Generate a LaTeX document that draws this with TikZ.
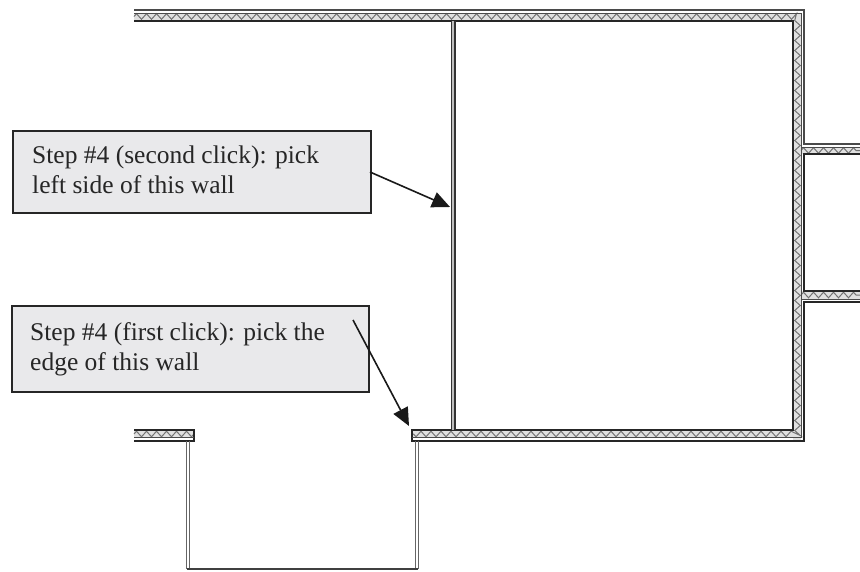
\documentclass[tikz,border=0pt]{standalone}
\usepackage{fontspec}
\setmainfont{Liberation Serif}
\usetikzlibrary{arrows.meta,decorations.pathmorphing}
\definecolor{boxfill}{HTML}{E9E9EB}
\definecolor{wallgray}{HTML}{4A4A4A}
\tikzset{
  x=1pt,y=-1pt,
  noteframe/.style={draw=black!85,line width=1.7pt,fill=boxfill,anchor=north west,inner sep=0pt},
  notetext/.style={anchor=north west,inner sep=0pt,align=left,text=black!85,font=\fontsize{25.5}{30.5}\selectfont},
  pointer/.style={draw=black!90,line width=1.6pt,-{Triangle[length=18pt,width=16pt]}},
  wallmain/.style={draw=black!85,line width=1.8pt},
  wallouter/.style={draw=wallgray,line width=1.7pt},
  wallthin/.style={draw=wallgray,line width=1pt},
  wallfill/.style={draw=black!55,line width=1pt,decorate,decoration={zigzag,amplitude=2.8pt,segment length=10pt}},
  partition/.style={draw=black!80,line width=1.4pt},
  jamb/.style={draw=black!60,line width=1pt},
}
\begin{document}
\begin{tikzpicture}
\useasboundingbox (0,0) rectangle (860,571);
% insulation
\fill[black!12] (134,13) rectangle (801,21);
\fill[black!12] (793,13) rectangle (801,441);
\fill[black!12] (412,430) rectangle (801,438);
\fill[black!12] (801,147) rectangle (860,154);
\fill[black!12] (801,291) rectangle (860,299);
\fill[black!12] (134,430) rectangle (194,438);
\draw[wallfill] (134,16.5) -- (797.5,16.5) -- (797.5,434) -- (412,434);
\draw[wallfill] (801,150.5) -- (860,150.5);
\draw[wallfill] (801,295) -- (860,295);
\draw[wallfill] (134,434) -- (194,434);
% upper and right wall
\draw[wallouter] (134,10) -- (804,10) -- (804,144) -- (860,144);
\draw[wallthin] (134,13) -- (801,13) -- (801,147) -- (860,147);
\draw[wallmain] (134,21) -- (793,21) -- (793,430) -- (412,430) -- (412,441) -- (804,441) -- (804,302) -- (860,302);
\draw[wallthin] (412,437.5) -- (801,437.5) -- (801,299) -- (860,299);
\draw[wallmain] (860,154) -- (804,154) -- (804,291) -- (860,291);
\draw[wallthin] (801,147) -- (801,299);
% partition
\fill[black!25] (451.3,21) rectangle (455,430);
\draw[partition] (451.3,21) -- (451.3,430);
\draw[partition] (455,21) -- (455,430);
% left stub
\draw[wallmain] (134,430) -- (194,430) -- (194,441) -- (134,441);
\draw[wallthin] (134,437.5) -- (194,437.5);
% door
\draw[jamb] (186,441) -- (186,569);
\draw[jamb] (189.5,441) -- (189.5,569);
\draw[jamb] (415,441) -- (415,569);
\draw[jamb] (418.5,441) -- (418.5,569);
\draw[draw=black!75,line width=1.2pt] (187,569) -- (418,569);
% notes
\node[noteframe,minimum width=358pt,minimum height=82pt] (boxsecond) at (12,130) {};
\node[notetext] (textsecond) at (32,145.5) {Step \#4 (second click): pick\\left side of this wall};
\node[noteframe,minimum width=357pt,minimum height=86pt] (boxfirst) at (11,305) {};
\node[notetext] (textfirst) at (30,322) {Step \#4 (first click): pick the\\edge of this wall};
% pointers
\coordinate (tipsecond) at (450,207);
\coordinate (startsecond) at (370,172);
\coordinate (tipfirst) at (409,426);
\coordinate (startfirst) at (353,320);
\draw[pointer] (startsecond) -- (tipsecond);
\draw[pointer] (startfirst) -- (tipfirst);
\end{tikzpicture}
\end{document}
